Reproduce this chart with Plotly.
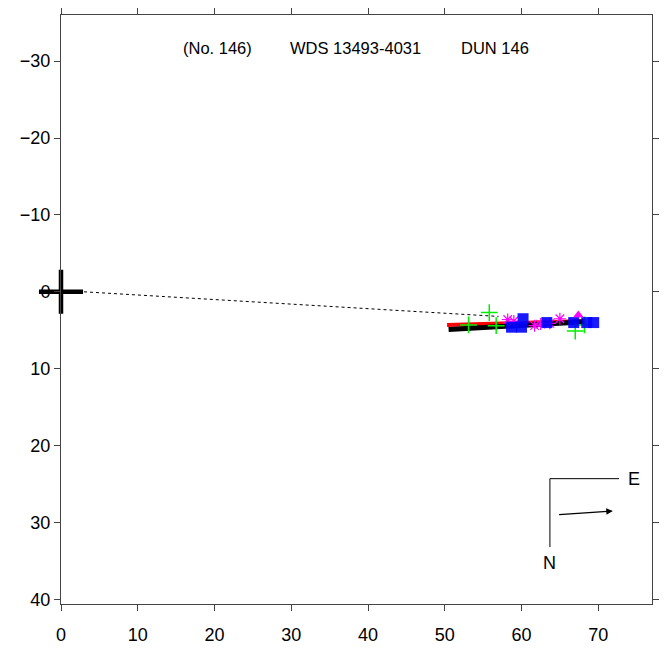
import plotly.graph_objects as go

# ---- data ----
primary_x = [0.0]
primary_y = [0.0]

green_x = [55.8, 53.1, 56.7, 67.0, 68.2]
green_y = [2.7, 4.3, 4.4, 5.1, 4.3]

blue_x = [60.2, 58.7, 60.0, 63.3, 66.8, 68.5, 69.4]
blue_y = [3.5, 4.6, 4.6, 4.0, 4.0, 4.0, 4.0]

mag_x = [58.2, 59.0, 61.7, 63.7, 65.0, 62.5]
mag_y = [3.6, 3.8, 4.4, 4.1, 3.5, 4.2]

tri_x = [67.4]
tri_y = [3.0]

red_x = [50.3, 68.3]
red_y = [4.3, 3.8]

black_x = [50.5, 68.3]
black_y = [4.9, 3.9]

dot_x = [3.0, 57.0]
dot_y = [0.0, 3.2]

compass_x = [72.7, 63.7, 63.7]
compass_y = [24.3, 24.3, 33.2]
arrow_x = [64.7, 71.9]
arrow_y = [29.0, 28.5]

xticks = [0, 10, 20, 30, 40, 50, 60, 70]
yticks = [-30, -20, -10, 0, 10, 20, 30, 40]

title_parts = ["(No. 146)", "WDS 13493-4031", "DUN 146"]
title_x = [15.6, 29.6, 51.9]
title_y = -31.7

fig = go.Figure()

fig.add_trace(go.Scatter(x=dot_x, y=dot_y, mode="lines",
                         line=dict(color="black", width=1, dash="dot"), hoverinfo="skip"))
fig.add_trace(go.Scatter(x=red_x, y=red_y, mode="lines",
                         line=dict(color="red", width=4)))
fig.add_trace(go.Scatter(x=black_x, y=black_y, mode="lines",
                         line=dict(color="black", width=5)))
fig.add_trace(go.Scatter(x=green_x, y=green_y, mode="markers",
                         marker=dict(symbol="cross-thin", size=12, color="#00ee00",
                                     line=dict(color="#00ee00", width=1.5))))
fig.add_trace(go.Scatter(x=mag_x, y=mag_y, mode="markers",
                         marker=dict(symbol="asterisk", size=10, color="magenta",
                                     line=dict(color="magenta", width=1.2))))
fig.add_trace(go.Scatter(x=blue_x, y=blue_y, mode="markers",
                         marker=dict(symbol="square", size=11, color="blue", opacity=0.9)))
fig.add_trace(go.Scatter(x=tri_x, y=tri_y, mode="markers",
                         marker=dict(symbol="triangle-up", size=9, color="magenta")))

# primary star cross
fig.add_trace(go.Scatter(x=primary_x, y=primary_y, mode="markers", cliponaxis=False,
                         marker=dict(symbol="cross-thin", size=31.5, color="black",
                                     line=dict(color="black", width=4.5))))

# compass
fig.add_trace(go.Scatter(x=compass_x, y=compass_y, mode="lines",
                         line=dict(color="black", width=1)))
fig.add_annotation(x=arrow_x[1], y=arrow_y[1], ax=arrow_x[0], ay=arrow_y[0],
                   xref="x", yref="y", axref="x", ayref="y", text="",
                   showarrow=True, arrowhead=2, arrowsize=1.1, arrowwidth=1.2,
                   arrowcolor="black")
fig.add_annotation(x=compass_x[0] + 1.9, y=compass_y[0], text="E", showarrow=False,
                   font=dict(size=18, color="black"))
fig.add_annotation(x=compass_x[2], y=compass_y[2] + 2.1, text="N", showarrow=False,
                   font=dict(size=18, color="black"))

for tx, tt in zip(title_x, title_parts):
    fig.add_annotation(x=tx, y=title_y, xref="x", yref="y", text=tt, xanchor="left",
                       showarrow=False, font=dict(size=16.5, color="black"))

axis_common = dict(showgrid=False, zeroline=False, showline=True, linecolor="#444",
                   linewidth=1, mirror="allticks", ticks="outside", ticklen=6,
                   tickcolor="#444", tickfont=dict(size=18, color="black"))
fig.update_xaxes(range=[0, 77], tickvals=xticks, ticklabelstandoff=8, **axis_common)
fig.update_yaxes(range=[40.6, -36], tickvals=yticks, **axis_common)

fig.update_layout(width=664, height=652, showlegend=False,
                  plot_bgcolor="white", paper_bgcolor="white",
                  margin=dict(l=61, r=5, t=15, b=48),
                  font=dict(family="Liberation Sans, Arial, sans-serif"))

fig.write_html("out.html")
